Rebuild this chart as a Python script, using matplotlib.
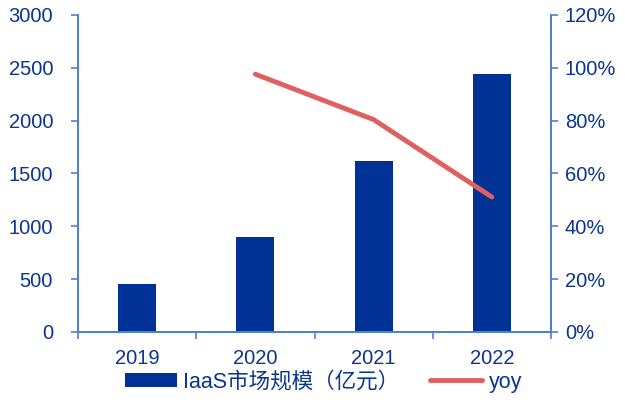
import numpy as np
import matplotlib
matplotlib.use("Agg")
import matplotlib.pyplot as plt
from matplotlib.ticker import FixedLocator, FuncFormatter

plt.rcParams['font.family'] = ['Liberation Sans', 'Noto Sans CJK SC', 'DejaVu Sans']

years = ["2019", "2020", "2021", "2022"]
market_size = [454, 895, 1615, 2441]          # 亿元
yoy = [np.nan, 97.6, 80.4, 51.1]               # %

BAR_COLOR = "#003296"
LINE_COLOR = "#E06060"
AXIS_COLOR = "#4F7FD6"
TEXT_COLOR = "#0A3590"

fig = plt.figure(figsize=(6.25, 4.03), dpi=100)
ax = fig.add_axes([0.1248, 0.1762, 0.8816 - 0.1248, 0.9628 - 0.1762])
ax2 = ax.twinx()

x = np.arange(len(years))
bars = ax.bar(x, market_size, width=0.32, color=BAR_COLOR, zorder=2,
              label="IaaS市场规模（亿元）")
line, = ax2.plot(x, yoy, color=LINE_COLOR, lw=3.5, solid_capstyle='round',
                 label="yoy", zorder=3)

ax.set_xlim(-0.5, len(years) - 0.5)
ax.set_ylim(0, 3000)
ax.set_yticks(np.arange(0, 3001, 500))
ax2.set_ylim(0, 120)
ax2.set_yticks(np.arange(0, 121, 20))
ax2.yaxis.set_major_formatter(FuncFormatter(lambda v, p: f"{v:.0f}%"))

# category boundaries carry tick marks, labels sit at the centres
ax.xaxis.set_major_locator(FixedLocator(np.arange(-0.5, len(years), 1.0)))
ax.xaxis.set_minor_locator(FixedLocator(x))
ax.set_xticklabels([""] * (len(years) + 1))
ax.set_xticklabels(years, minor=True)
ax.tick_params(axis='x', which='major', length=5, width=1.2, color=AXIS_COLOR, direction='out')
ax.tick_params(axis='x', which='minor', length=0, pad=12, labelsize=14.5, labelcolor=TEXT_COLOR)

for a in (ax, ax2):
    for s in a.spines.values():
        s.set_color(AXIS_COLOR)
        s.set_linewidth(1.3)
    a.spines['top'].set_visible(False)
    a.tick_params(axis='y', length=5, width=1.2, color=AXIS_COLOR,
                  labelsize=14.5, labelcolor=TEXT_COLOR)
ax.tick_params(axis='y', pad=13)
ax2.tick_params(axis='y', pad=5)

handles = [bars, line]
labels = [h.get_label() for h in handles]
leg = fig.legend(handles, labels, loc='center', bbox_to_anchor=(0.5176, 0.052),
                 ncol=2, frameon=False, fontsize=15.5, handlelength=2.4,
                 handleheight=0.6, columnspacing=1.45, handletextpad=0.3)
for t in leg.get_texts():
    t.set_color(TEXT_COLOR)

fig.savefig("out.png", dpi=100)
